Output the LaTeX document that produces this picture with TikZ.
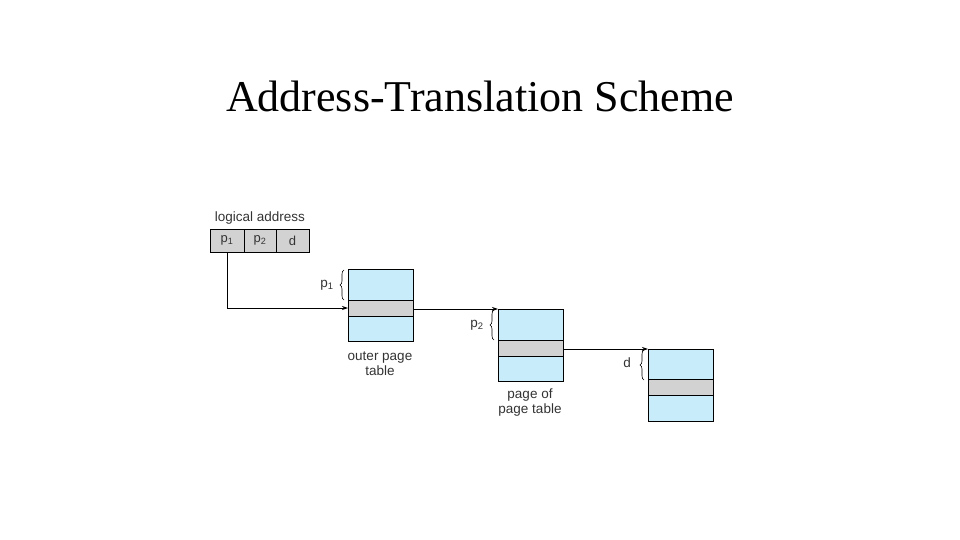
\documentclass[tikz,border=0pt]{standalone}
\usepackage{fontspec}
\setmainfont{Liberation Serif}
\newfontfamily\lab{Liberation Sans}
\usetikzlibrary{decorations.pathreplacing,arrows.meta}
\definecolor{tblue}{RGB}{200,236,250}
\definecolor{tgray}{RGB}{210,210,210}
\tikzset{tbl/.style={draw,fill=tblue,line width=0.8pt},band/.style={draw,fill=tgray,line width=0.8pt},
 cell/.style={draw,fill=tgray,minimum width=33pt,minimum height=23pt,inner sep=0pt,font=\lab\fontsize{13}{13}\selectfont,line width=0.6pt,text=black!80},
 lbl/.style={font=\lab\fontsize{13.5}{15}\selectfont,align=center,text=black!80},
 br/.style={decorate,decoration={brace,amplitude=4pt},line width=0.6pt},
 arr/.style={-{Stealth[length=6pt,width=4pt]},line width=0.8pt}}
\begin{document}
\begin{tikzpicture}[x=1pt,y=-1pt]
\useasboundingbox (0,0) rectangle (960,540);
\node[font=\fontsize{44}{46}\selectfont] (title) at (480,96) {Address-Translation Scheme};
\node[lbl] (la) at (260,218) {logical address};
\node[cell,minimum width=34pt] (c1) at (227,240.5) {p\textsubscript{1}};
\node[cell,minimum width=32pt] (c2) at (260,240.5) {p\textsubscript{2}};
\node[cell] (c3) at (292.5,240.5) {d};
% tables
\draw[tbl] (348,269) rectangle (413,341);
\draw[band] (348,300) rectangle (413,316);
\draw[tbl] (498,309) rectangle (563,381);
\draw[band] (498,340) rectangle (563,356);
\draw[tbl] (648,349) rectangle (713,421);
\draw[band] (648,379) rectangle (713,395);
\coordinate (t1) at (348,308);
\coordinate (t1o) at (413,309);
\coordinate (t2) at (498,309);
\coordinate (t2o) at (563,349);
\coordinate (t3) at (648,349);
\draw[arr] (c1.south) |- (t1);
\draw[arr] (t1o) -- (t2);
\draw[arr] (t2o) -- (t3);
\draw[br] (344,300) -- (344,270);
\draw[br] (494,340) -- (494,310);
\draw[br] (644,380) -- (644,350);
\node[lbl] (l1) at (327,285) {p\textsubscript{1}};
\node[lbl] (l2) at (477,325) {p\textsubscript{2}};
\node[lbl] (l3) at (627,363) {d};
\node[lbl] (n1) at (380,364) {outer page\\table};
\node[lbl] (n2) at (530,403) {page of\\page table};
\end{tikzpicture}
\end{document}
